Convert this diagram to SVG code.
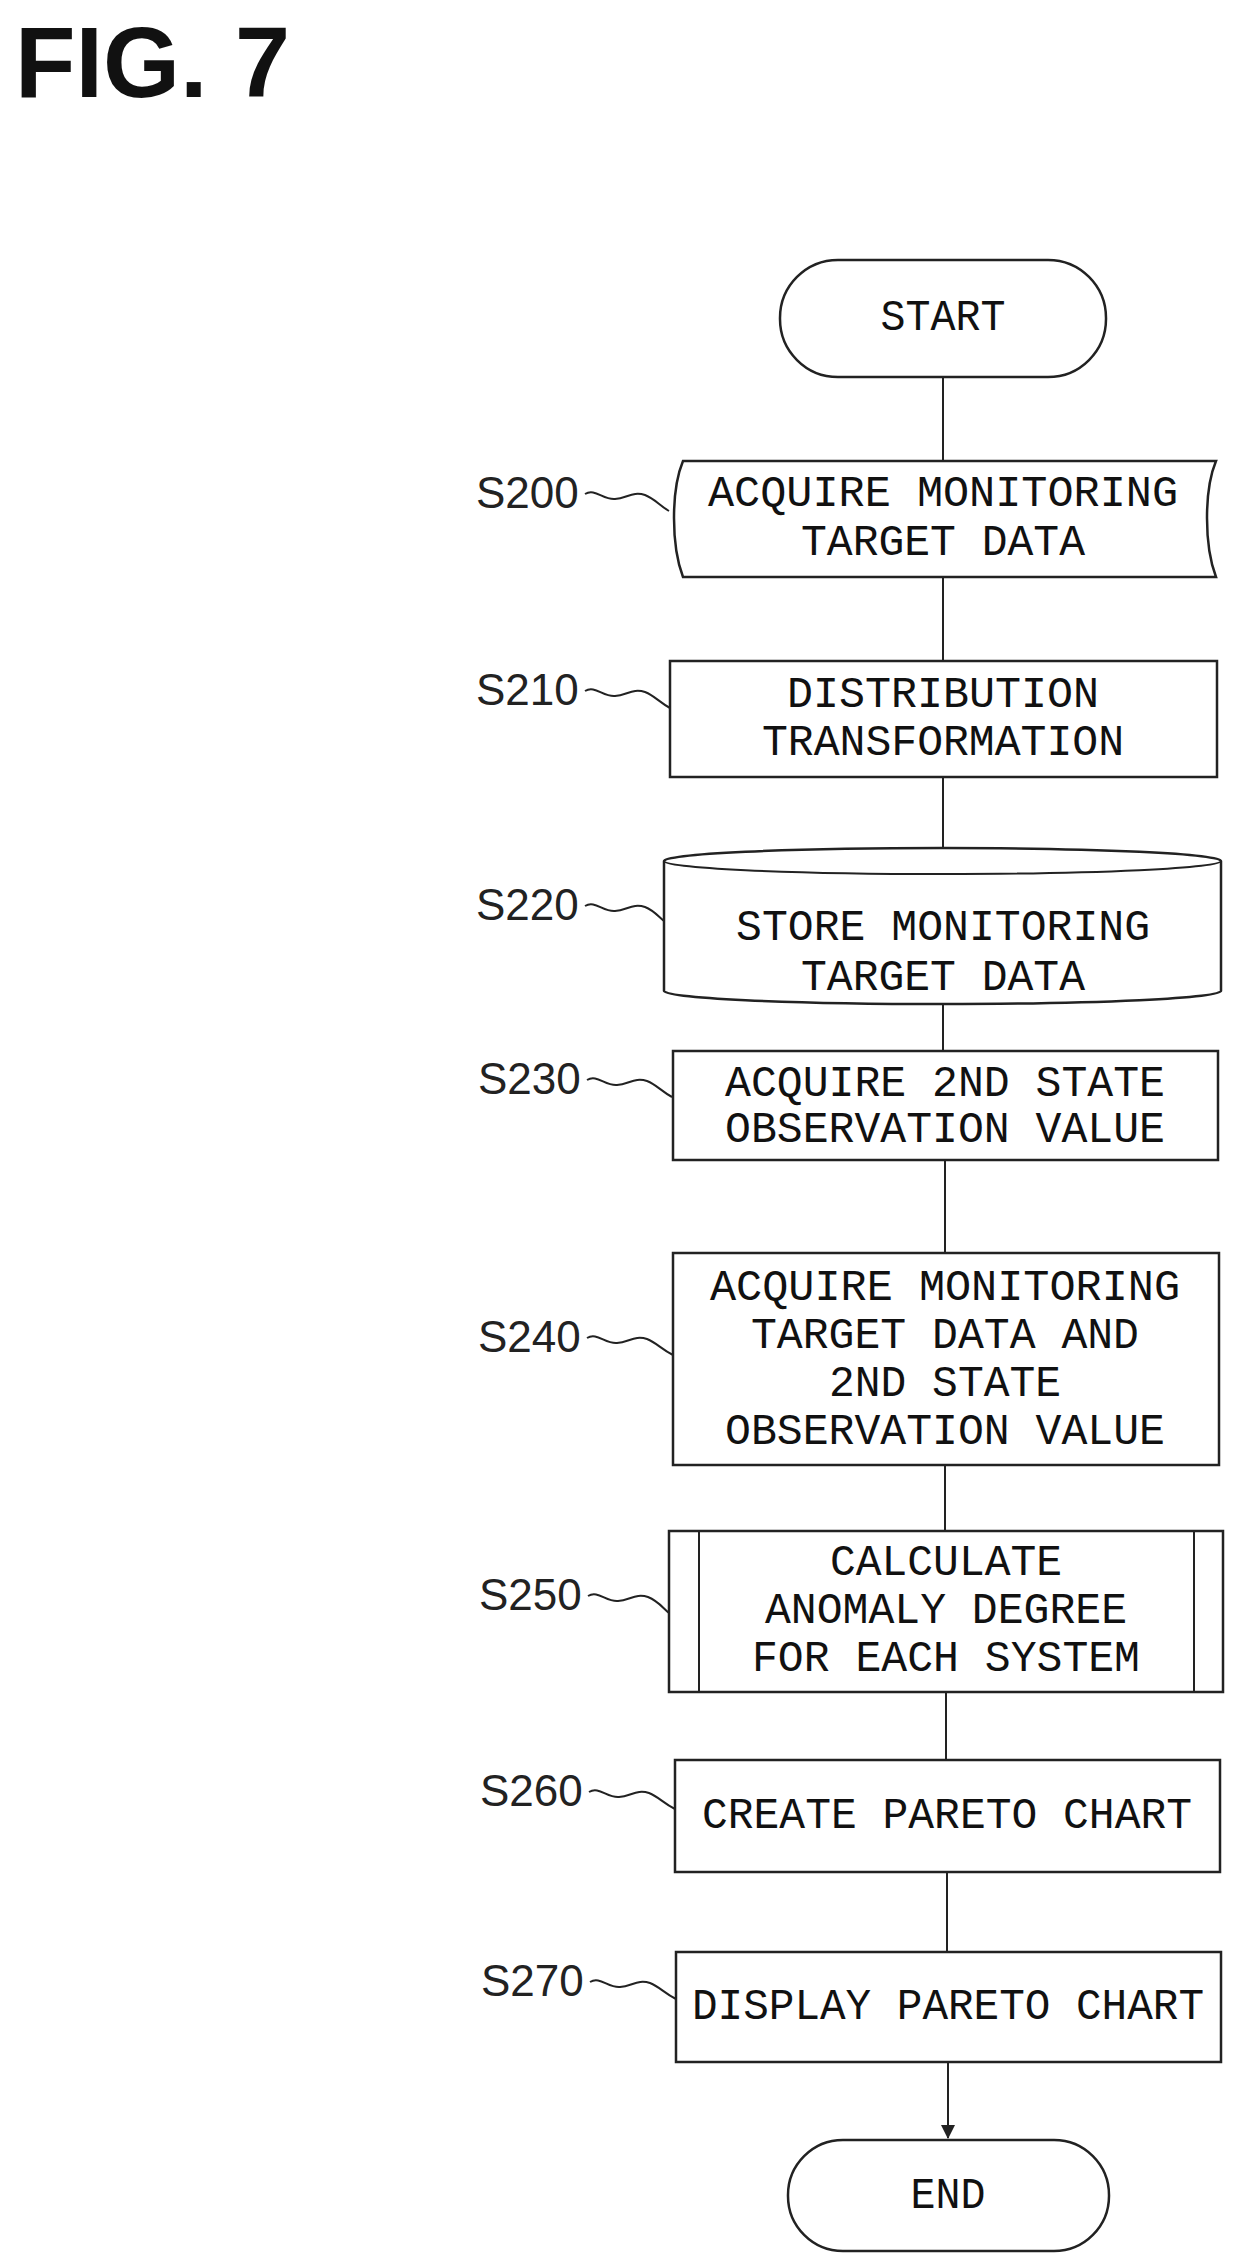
<svg xmlns="http://www.w3.org/2000/svg" width="1240" height="2264" viewBox="0 0 1240 2264">
<defs>
<style>
.s{fill:#fff;stroke:#222;stroke-width:2.5}
.w{fill:none;stroke:#222;stroke-width:2}
.c{fill:none;stroke:#222;stroke-width:2}
.t{font-family:"Liberation Mono",monospace;font-size:44px;fill:#111;text-anchor:middle;dominant-baseline:central}
.l{font-family:"Liberation Sans",sans-serif;font-size:44px;fill:#222;dominant-baseline:central}
</style>
<marker id="ah" markerWidth="14" markerHeight="14" refX="13" refY="7" orient="auto" markerUnits="userSpaceOnUse"><path d="M0,0 L14,7 L0,14 Z" fill="#222"/></marker>
</defs>
<rect width="1240" height="2264" fill="#fff"/>
<text x="15" y="62" font-family="Liberation Sans,sans-serif" font-weight="bold" font-size="100" textLength="275" lengthAdjust="spacingAndGlyphs" dominant-baseline="central" fill="#111">FIG. 7</text>
<g id="connectors">
<line class="c" x1="943" y1="377" x2="943" y2="461"/>
<line class="c" x1="943" y1="577" x2="943" y2="661"/>
<line class="c" x1="943" y1="777" x2="943" y2="848"/>
<line class="c" x1="943" y1="1004" x2="943" y2="1051"/>
<line class="c" x1="945" y1="1160" x2="945" y2="1253"/>
<line class="c" x1="945" y1="1465" x2="945" y2="1531"/>
<line class="c" x1="946" y1="1692" x2="946" y2="1760"/>
<line class="c" x1="947" y1="1872" x2="947" y2="1952"/>
<line class="c" x1="948" y1="2062" x2="948" y2="2138" marker-end="url(#ah)"/>
</g>
<g id="start"><rect class="s" x="780" y="260" width="326" height="117" rx="58"/><text class="t" x="943" y="318" textLength="125" lengthAdjust="spacingAndGlyphs">START</text></g>
<g id="s200"><path class="s" d="M683,461 L1216,461 C1204,490 1204,545 1216,577 L683,577 C671,545 671,490 683,461 Z"/>
<text class="t" x="943" y="494" textLength="470" lengthAdjust="spacingAndGlyphs">ACQUIRE MONITORING</text>
<text class="t" x="943" y="543" textLength="284" lengthAdjust="spacingAndGlyphs">TARGET DATA</text>
<text class="l" x="476" y="492">S200</text><path class="w" d="M585,494 c10,-6 18,6 30,5 c12,-1 18,-8 30,-4 c10,4 14,10 24,16"/></g>
<g id="s210"><rect class="s" x="670" y="661" width="547" height="116"/>
<text class="t" x="943" y="695" textLength="312" lengthAdjust="spacingAndGlyphs">DISTRIBUTION</text>
<text class="t" x="943" y="743" textLength="362" lengthAdjust="spacingAndGlyphs">TRANSFORMATION</text>
<text class="l" x="476" y="689">S210</text><path class="w" d="M585,691 c10,-6 18,6 30,5 c12,-1 18,-8 30,-4 c10,4 14,10 25,16"/></g>
<g id="s220"><path class="s" d="M664,861 A278,13 0 0 1 1221,861 L1221,991 A278,13 0 0 1 664,991 Z"/><path class="w" d="M664,861 A278,13 0 0 0 1221,861"/>
<text class="t" x="943" y="928" textLength="414" lengthAdjust="spacingAndGlyphs">STORE MONITORING</text>
<text class="t" x="943" y="978" textLength="284" lengthAdjust="spacingAndGlyphs">TARGET DATA</text>
<text class="l" x="476" y="904">S220</text><path class="w" d="M585,906 c10,-6 18,6 30,5 c12,-1 18,-8 30,-4 c8,3 12,8 19,14"/></g>
<g id="s230"><rect class="s" x="673" y="1051" width="545" height="109"/>
<text class="t" x="945" y="1084" textLength="440" lengthAdjust="spacingAndGlyphs">ACQUIRE 2ND STATE</text>
<text class="t" x="945" y="1130" textLength="440" lengthAdjust="spacingAndGlyphs">OBSERVATION VALUE</text>
<text class="l" x="478" y="1078">S230</text><path class="w" d="M587,1080 c10,-6 18,6 30,5 c12,-1 18,-8 30,-4 c10,4 14,10 25,16"/></g>
<g id="s240"><rect class="s" x="673" y="1253" width="546" height="212"/>
<text class="t" x="945" y="1288" textLength="470" lengthAdjust="spacingAndGlyphs">ACQUIRE MONITORING</text>
<text class="t" x="945" y="1336" textLength="388" lengthAdjust="spacingAndGlyphs">TARGET DATA AND</text>
<text class="t" x="945" y="1384" textLength="232" lengthAdjust="spacingAndGlyphs">2ND STATE</text>
<text class="t" x="945" y="1432" textLength="440" lengthAdjust="spacingAndGlyphs">OBSERVATION VALUE</text>
<text class="l" x="478" y="1336">S240</text><path class="w" d="M587,1338 c10,-6 18,6 30,5 c12,-1 18,-8 30,-4 c10,4 14,10 26,16"/></g>
<g id="s250"><rect class="s" x="669" y="1531" width="554" height="161"/><line class="w" x1="699" y1="1531" x2="699" y2="1692"/><line class="w" x1="1194" y1="1531" x2="1194" y2="1692"/>
<text class="t" x="946" y="1563" textLength="232" lengthAdjust="spacingAndGlyphs">CALCULATE</text>
<text class="t" x="946" y="1611" textLength="362" lengthAdjust="spacingAndGlyphs">ANOMALY DEGREE</text>
<text class="t" x="946" y="1659" textLength="388" lengthAdjust="spacingAndGlyphs">FOR EACH SYSTEM</text>
<text class="l" x="479" y="1594">S250</text><path class="w" d="M588,1596 c10,-6 18,6 30,5 c12,-1 18,-8 30,-4 c10,4 14,10 21,16"/></g>
<g id="s260"><rect class="s" x="675" y="1760" width="545" height="112"/>
<text class="t" x="947" y="1816" textLength="490" lengthAdjust="spacingAndGlyphs">CREATE PARETO CHART</text>
<text class="l" x="480" y="1790">S260</text><path class="w" d="M589,1792 c10,-6 18,6 30,5 c12,-1 18,-8 30,-4 c10,4 14,10 26,16"/></g>
<g id="s270"><rect class="s" x="676" y="1952" width="545" height="110"/>
<text class="t" x="948" y="2007" textLength="512" lengthAdjust="spacingAndGlyphs">DISPLAY PARETO CHART</text>
<text class="l" x="481" y="1980">S270</text><path class="w" d="M590,1982 c10,-6 18,6 30,5 c12,-1 18,-8 30,-4 c10,4 14,10 26,16"/></g>
<g id="end"><rect class="s" x="788" y="2140" width="321" height="111" rx="55"/><text class="t" x="948" y="2196" textLength="75" lengthAdjust="spacingAndGlyphs">END</text></g>
</svg>
